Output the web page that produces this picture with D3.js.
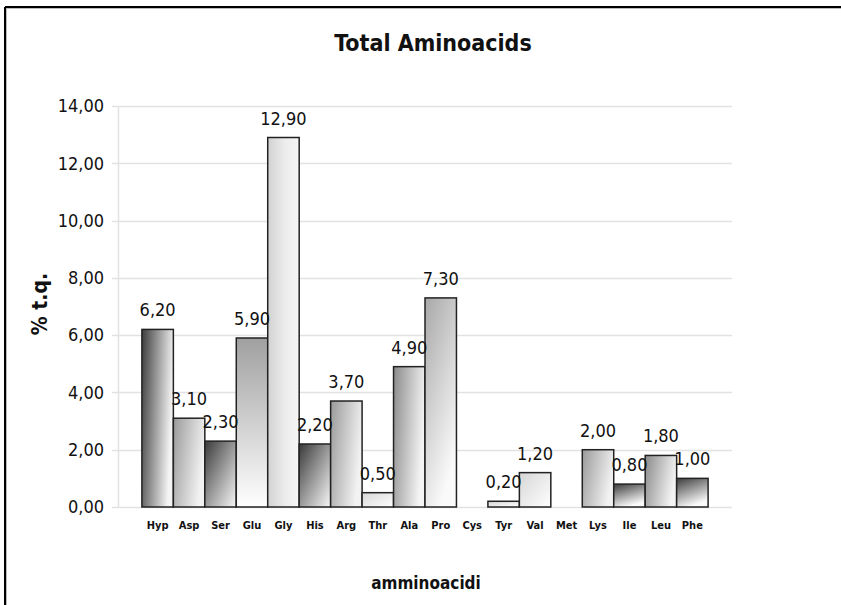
<!DOCTYPE html>
<html>
<head>
<meta charset="utf-8">
<script src="https://cdn.jsdelivr.net/npm/d3@7/dist/d3.min.js"></script>
<style>
  html, body { margin: 0; padding: 0; background: #fff; }
  svg { display: block; }
  .cond { font-family: "DejaVu Sans Condensed", "DejaVu Sans", sans-serif; font-stretch: condensed; }
</style>
</head>
<body>
<svg id="chart" width="841" height="605"></svg>
<script>
// ---- data ----
const categories = ["Hyp","Asp","Ser","Glu","Gly","His","Arg","Thr","Ala","Pro","Cys","Tyr","Val","Met","Lys","Ile","Leu","Phe"];
const values     = [6.20, 3.10, 2.30, 5.90, 12.90, 2.20, 3.70, 0.50, 4.90, 7.30, null, 0.20, 1.20, null, 2.00, 0.80, 1.80, 1.00];
const yTicks     = [0, 2, 4, 6, 8, 10, 12, 14];
const chartTitle = "Total Aminoacids";
const xTitle     = "amminoacidi";
const yTitle     = "% t.q.";

// ---- shading styles (one per bar) ----
const shades = {
  darkH:   {x2:1, y2:0.25, stops:[["0%","#3c3c3c"],["100%","#f4f4f4"]]},
  grayH:   {x2:1, y2:0.35, stops:[["0%","#9a9a9a"],["100%","#f2f2f2"]]},
  darkD:   {x2:1, y2:1,    stops:[["0%","#3a3a3a"],["100%","#f8f8f8"]]},
  grayV:   {x2:0, y2:1,    stops:[["0%","#a0a0a0"],["100%","#ffffff"]]},
  lightH:  {x2:1, y2:0,    stops:[["0%","#d2d2d2"],["55%","#ececec"],["100%","#f6f6f6"]]},
  midH:    {x2:1, y2:0.3,  stops:[["0%","#8a8a8a"],["100%","#f4f4f4"]]},
  paleD:   {x2:1, y2:1,    stops:[["0%","#d6d6d6"],["100%","#ffffff"]]},
  proV:    {x2:0.5, y2:1,  stops:[["0%","#a8a8a8"],["100%","#fafafa"]]},
  darkV:   {x2:0.4, y2:1,  stops:[["0%","#3c3c3c"],["100%","#fafafa"]]}
};
const barShade = ["darkH","grayH","darkD","grayV","lightH","darkD","grayH","paleD","midH","proV",null,"paleD","paleD",null,"grayH","darkV","midH","darkV"];

const svg = d3.select("#chart");
const defs = svg.append("defs");
Object.entries(shades).forEach(([k, s]) => {
  const g = defs.append("linearGradient").attr("id", "g-" + k)
    .attr("x1", 0).attr("y1", 0).attr("x2", s.x2).attr("y2", s.y2);
  s.stops.forEach(([o, c]) => g.append("stop").attr("offset", o).attr("stop-color", c));
});

// frame
svg.append("line").attr("x1", 5).attr("y1", 7).attr("x2", 841).attr("y2", 7).attr("stroke", "#000").attr("stroke-width", 2);
svg.append("line").attr("x1", 5).attr("y1", 7).attr("x2", 5).attr("y2", 605).attr("stroke", "#000").attr("stroke-width", 2);
svg.append("line").attr("x1", 7).attr("y1", 8.5).attr("x2", 841).attr("y2", 8.5).attr("stroke", "#bbb").attr("stroke-width", 1);
svg.append("line").attr("x1", 6.5).attr("y1", 8).attr("x2", 6.5).attr("y2", 605).attr("stroke", "#bbb").attr("stroke-width", 1);

// scales
const plotLeft = 118, plotRight = 732;
const x = d3.scaleBand().domain(categories).range([plotLeft, plotRight]).paddingInner(0).paddingOuter(0.76);
const y = d3.scaleLinear().domain([0, 14]).range([507, 106]);
const fmt = v => d3.format(".2f")(v).replace(".", ",");

// gridlines
svg.append("g").selectAll("line").data(yTicks).join("line")
  .attr("x1", 112).attr("x2", plotRight)
  .attr("y1", d => Math.round(y(d)) + 0.5).attr("y2", d => Math.round(y(d)) + 0.5)
  .attr("stroke", "#e2e2e2").attr("stroke-width", 1.5);

// y axis
const yAxis = svg.append("g").attr("transform", `translate(${plotLeft},0)`)
  .call(d3.axisLeft(y).tickValues(yTicks).tickFormat(fmt).tickSize(0).tickPadding(14));
yAxis.select(".domain").attr("stroke", "#e2e2e2").attr("stroke-width", 1.5);
yAxis.selectAll("text").attr("class", "cond").attr("font-size", 18).attr("fill", "#111");

// x axis labels
const xAxis = svg.append("g").attr("transform", `translate(0,${y(0)})`)
  .call(d3.axisBottom(x).tickSize(0).tickPadding(14));
xAxis.select(".domain").remove();
xAxis.selectAll("text").attr("class", "cond").attr("font-size", 11).attr("font-weight", "bold").attr("fill", "#111");

// bars
const data = categories.map((c, i) => ({c, v: values[i], s: barShade[i]})).filter(d => d.v != null);
svg.append("g").selectAll("rect").data(data).join("rect")
  .attr("x", d => x(d.c))
  .attr("y", d => y(d.v))
  .attr("width", x.bandwidth())
  .attr("height", d => y(0) - y(d.v))
  .attr("fill", d => `url(#g-${d.s})`)
  .attr("stroke", "#222").attr("stroke-width", 1.5);

// value labels
svg.append("g").selectAll("text").data(data).join("text")
  .attr("class", "cond")
  .attr("x", d => x(d.c) + x.bandwidth() / 2)
  .attr("y", d => y(d.v) - 13)
  .attr("text-anchor", "middle").attr("font-size", 18).attr("fill", "#111")
  .text(d => fmt(d.v));

// titles
svg.append("text").attr("class", "cond").attr("x", 433).attr("y", 51)
  .attr("text-anchor", "middle").attr("font-size", 23).attr("font-weight", "bold").attr("fill", "#111")
  .text(chartTitle);
svg.append("text").attr("class", "cond").attr("transform", "translate(47,304) rotate(-90)")
  .attr("text-anchor", "middle").attr("font-size", 21).attr("font-weight", "bold").attr("fill", "#111")
  .text(yTitle);
svg.append("text").attr("class", "cond").attr("x", 426).attr("y", 589)
  .attr("text-anchor", "middle").attr("font-size", 17).attr("font-weight", "bold").attr("fill", "#111")
  .text(xTitle);
</script>
</body>
</html>
